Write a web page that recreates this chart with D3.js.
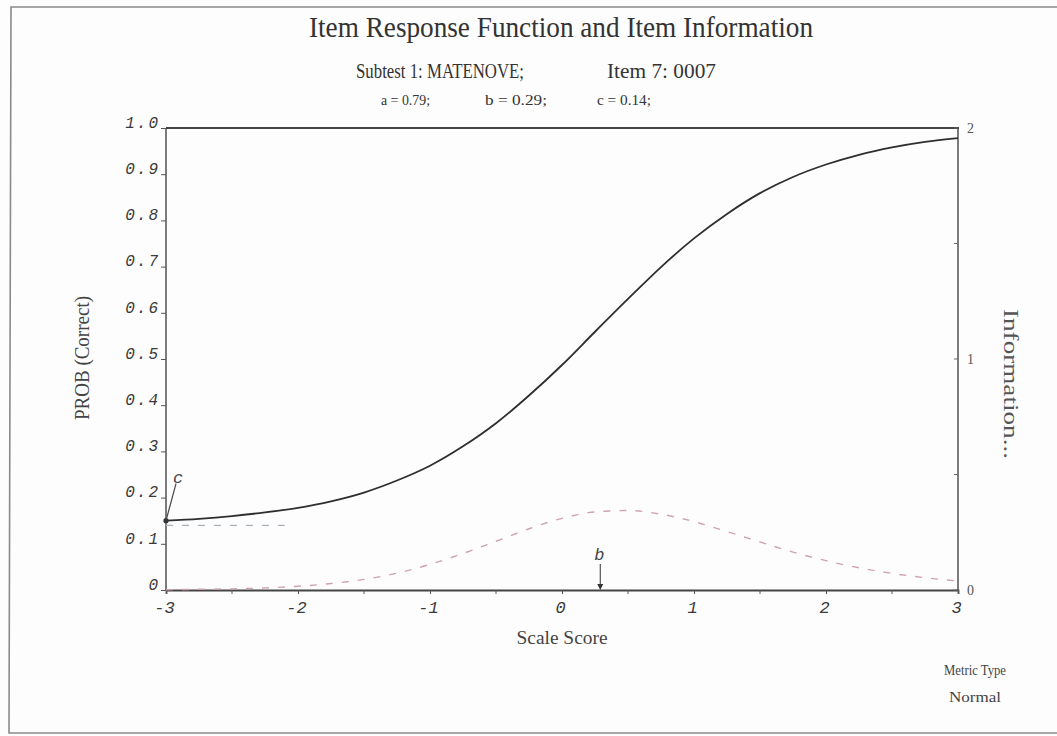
<!DOCTYPE html>
<html>
<head>
<meta charset="utf-8">
<script src="https://cdn.jsdelivr.net/npm/d3@7"></script>
<style>
  html, body { margin: 0; padding: 0; background: #fdfdfd; }
  svg { display: block; }
</style>
</head>
<body>
<svg id="chart" width="1057" height="736"></svg>
<script>
// Item parameters (3PL) shown in the header
const paramLabels = ["a = 0.79;", "b = 0.29;", "c = 0.14;"];
const paramB = 0.29;
const paramC = 0.14;

// Ability grid (scale score)
const theta = [-3, -2.75, -2.5, -2.25, -2, -1.75, -1.5, -1.25, -1, -0.75, -0.5, -0.25,
               0, 0.25, 0.5, 0.75, 1, 1.25, 1.5, 1.75, 2, 2.25, 2.5, 2.75, 3];
// Item response function: probability of a correct answer
const probCorrect = [0.150, 0.154, 0.160, 0.168, 0.178, 0.192, 0.211, 0.237, 0.269, 0.311,
                     0.361, 0.421, 0.487, 0.559, 0.630, 0.699, 0.761, 0.814, 0.859, 0.894,
                     0.921, 0.942, 0.958, 0.970, 0.978];
// Item information
const information = [0.001, 0.003, 0.005, 0.009, 0.016, 0.028, 0.046, 0.073, 0.111, 0.158,
                     0.211, 0.265, 0.310, 0.338, 0.344, 0.328, 0.296, 0.253, 0.208, 0.164,
                     0.127, 0.096, 0.072, 0.053, 0.039];

// Axis ticks
const xTicksMajor = [-3, -2, -1, 0, 1, 2, 3];
const xTicksMinor = [-2.5, -1.5, -0.5, 0.5, 1.5, 2.5];
const yTicks = [0, 0.1, 0.2, 0.3, 0.4, 0.5, 0.6, 0.7, 0.8, 0.9, 1.0];
const yTickLabels = ["0", "0.1", "0.2", "0.3", "0.4", "0.5", "0.6", "0.7", "0.8", "0.9", "1.0"];
const infoTicksMajor = [0, 1, 2];
const infoTicksMinor = [0.5, 1.5];

const svg = d3.select("#chart");
const ink = "#333";
const serif = "'Liberation Serif', 'Times New Roman', serif";
const mono = "'Liberation Mono', 'Courier New', monospace";

// Plot frame
const plotLeft = 166, plotRight = 958, plotTop = 128, plotBottom = 590;

const x = d3.scaleLinear().domain([-3, 3]).range([plotLeft, plotRight]);
const y = d3.scaleLinear().domain([0, 1]).range([plotBottom, plotTop]);
const yInfo = d3.scaleLinear().domain([0, 2]).range([plotBottom, plotTop]);

// Outer page border
svg.append("path")
  .attr("d", `M1057,7 L11,7 L9,733 L1057,733`)
  .attr("fill", "none").attr("stroke", "#8a8a8a").attr("stroke-width", 1.6);

// Titles (narrow serif face, compressed to width)
svg.append("text")
  .attr("x", 561).attr("y", 37)
  .attr("text-anchor", "middle")
  .attr("font-family", serif).attr("font-size", 29)
  .attr("textLength", 504).attr("lengthAdjust", "spacingAndGlyphs")
  .attr("fill", ink)
  .text("Item Response Function and Item Information");

svg.append("text")
  .attr("x", 356).attr("y", 78)
  .attr("font-family", serif).attr("font-size", 21)
  .attr("textLength", 168).attr("lengthAdjust", "spacingAndGlyphs")
  .attr("fill", ink).text("Subtest 1: MATENOVE;");
svg.append("text")
  .attr("x", 607).attr("y", 78)
  .attr("font-family", serif).attr("font-size", 22)
  .attr("textLength", 109).attr("lengthAdjust", "spacingAndGlyphs")
  .attr("fill", ink).text("Item 7: 0007");

const paramX = [381, 485, 597];
const paramW = [49, 62, 54];
paramLabels.forEach((t, i) => {
  svg.append("text")
    .attr("x", paramX[i]).attr("y", 105)
    .attr("font-family", serif).attr("font-size", 15)
    .attr("textLength", paramW[i]).attr("lengthAdjust", "spacingAndGlyphs")
    .attr("fill", ink).text(t);
});

// Frame lines: top, left, right
const frame = svg.append("g").attr("stroke", "#444").attr("fill", "none");
frame.append("line").attr("x1", plotLeft).attr("x2", plotRight + 1).attr("y1", plotTop).attr("y2", plotTop).attr("stroke-width", 1.8);
frame.append("line").attr("x1", plotLeft).attr("x2", plotLeft).attr("y1", plotTop).attr("y2", plotBottom + 1).attr("stroke-width", 1.4);
frame.append("line").attr("x1", plotRight).attr("x2", plotRight).attr("y1", plotTop).attr("y2", plotBottom + 1).attr("stroke-width", 1.4);

// Bottom axis
const xAxis = d3.axisBottom(x)
  .tickValues(xTicksMajor)
  .tickSize(4)
  .tickFormat(d => d3.format("d")(d).replace("−", "-"));
const gx = svg.append("g").attr("transform", `translate(0,${plotBottom})`).call(xAxis);
gx.select(".domain").attr("stroke", "#444").attr("stroke-width", 1.8);
gx.selectAll(".tick line").attr("stroke", "#555");
gx.selectAll(".tick text")
  .attr("font-family", mono).attr("font-style", "italic").attr("font-size", 17)
  .attr("fill", "#3a3a3a").attr("dy", "0.95em").attr("dx", "-2");
svg.append("g").selectAll("line").data(xTicksMinor).join("line")
  .attr("x1", d => x(d)).attr("x2", d => x(d))
  .attr("y1", plotBottom).attr("y2", plotBottom + 4)
  .attr("stroke", "#555");

// Left axis (probability)
const yAxis = d3.axisLeft(y)
  .tickValues(yTicks)
  .tickSize(5)
  .tickFormat((d, i) => yTickLabels[i]);
const gy = svg.append("g").attr("transform", `translate(${plotLeft},0)`).call(yAxis);
gy.select(".domain").remove();
gy.selectAll(".tick line").attr("stroke", "#555");
gy.selectAll(".tick text")
  .attr("font-family", mono).attr("font-style", "italic").attr("font-size", 16)
  .attr("fill", "#3a3a3a").attr("dy", "-0.05em").attr("x", -6)
  .attr("letter-spacing", 2);

// Right axis (information)
const infoAxis = d3.axisRight(yInfo)
  .tickValues(infoTicksMajor)
  .tickSize(0)
  .tickPadding(9)
  .tickFormat(d3.format("d"));
const gi = svg.append("g").attr("transform", `translate(${plotRight},0)`).call(infoAxis);
gi.select(".domain").remove();
gi.selectAll(".tick text")
  .attr("font-family", serif).attr("font-size", 14).attr("fill", "#555");
svg.append("g").selectAll("line").data(infoTicksMajor.concat(infoTicksMinor)).join("line")
  .attr("x1", plotRight - 4).attr("x2", plotRight)
  .attr("y1", d => yInfo(d)).attr("y2", d => yInfo(d))
  .attr("stroke", "#666");

// Axis titles
svg.append("text")
  .attr("transform", `translate(89,358) rotate(-90)`)
  .attr("text-anchor", "middle")
  .attr("font-family", serif).attr("font-size", 20)
  .attr("textLength", 124).attr("lengthAdjust", "spacingAndGlyphs")
  .attr("fill", "#444").text("PROB (Correct)");
svg.append("text")
  .attr("transform", `translate(1004,384) rotate(90)`)
  .attr("text-anchor", "middle")
  .attr("font-family", serif).attr("font-size", 22)
  .attr("textLength", 150).attr("lengthAdjust", "spacingAndGlyphs")
  .attr("fill", "#555").text("Information...");
svg.append("text")
  .attr("x", 562).attr("y", 644)
  .attr("text-anchor", "middle")
  .attr("font-family", serif).attr("font-size", 18)
  .attr("textLength", 91).attr("lengthAdjust", "spacingAndGlyphs")
  .attr("fill", "#444").text("Scale Score");
svg.append("text")
  .attr("x", 1006).attr("y", 675)
  .attr("text-anchor", "end")
  .attr("font-family", serif).attr("font-size", 15)
  .attr("textLength", 62).attr("lengthAdjust", "spacingAndGlyphs")
  .attr("fill", "#444").text("Metric Type");
svg.append("text")
  .attr("x", 1001).attr("y", 702)
  .attr("text-anchor", "end")
  .attr("font-family", serif).attr("font-size", 15)
  .attr("textLength", 52).attr("lengthAdjust", "spacingAndGlyphs")
  .attr("fill", "#444").text("Normal");

// Lower asymptote (c) reference dashes
svg.append("line")
  .attr("x1", x(-3)).attr("x2", x(-2.1))
  .attr("y1", y(paramC)).attr("y2", y(paramC))
  .attr("stroke", "#a9b1bf").attr("stroke-width", 1.3)
  .attr("stroke-dasharray", "7,9");

// Item information curve
const pts = theta.map((t, i) => ({ t, p: probCorrect[i], info: information[i] }));
svg.append("path")
  .datum(pts)
  .attr("fill", "none")
  .attr("stroke", "#cfa3ad").attr("stroke-width", 1.4)
  .attr("stroke-dasharray", "7,9")
  .attr("d", d3.line().x(d => x(d.t)).y(d => yInfo(d.info)).curve(d3.curveMonotoneX));

// Item response function
svg.append("path")
  .datum(pts)
  .attr("fill", "none")
  .attr("stroke", "#2e2e2e").attr("stroke-width", 1.8)
  .attr("d", d3.line().x(d => x(d.t)).y(d => y(d.p)).curve(d3.curveMonotoneX));

// c marker: dot at the curve start with a leader to the label
svg.append("circle")
  .attr("cx", x(theta[0])).attr("cy", y(probCorrect[0])).attr("r", 2.6)
  .attr("fill", "#333");
svg.append("line")
  .attr("x1", x(theta[0])).attr("y1", y(probCorrect[0]))
  .attr("x2", x(theta[0]) + 10).attr("y2", y(probCorrect[0]) - 37)
  .attr("stroke", "#444").attr("stroke-width", 1.2);
svg.append("text")
  .attr("x", x(theta[0]) + 7).attr("y", y(probCorrect[0]) - 38)
  .attr("font-family", mono).attr("font-style", "italic").attr("font-size", 17)
  .attr("fill", "#444").text("c");

// b marker: arrow down to the difficulty on the axis
svg.append("line")
  .attr("x1", x(paramB)).attr("x2", x(paramB))
  .attr("y1", plotBottom - 26).attr("y2", plotBottom - 4)
  .attr("stroke", "#444").attr("stroke-width", 1.1);
svg.append("path")
  .attr("d", `M${x(paramB) - 3},${plotBottom - 6} L${x(paramB) + 3},${plotBottom - 6} L${x(paramB)},${plotBottom} Z`)
  .attr("fill", "#333");
svg.append("text")
  .attr("x", x(paramB) - 1).attr("y", plotBottom - 30)
  .attr("text-anchor", "middle")
  .attr("font-family", mono).attr("font-style", "italic").attr("font-size", 17)
  .attr("fill", "#444").text("b");
</script>
</body>
</html>
